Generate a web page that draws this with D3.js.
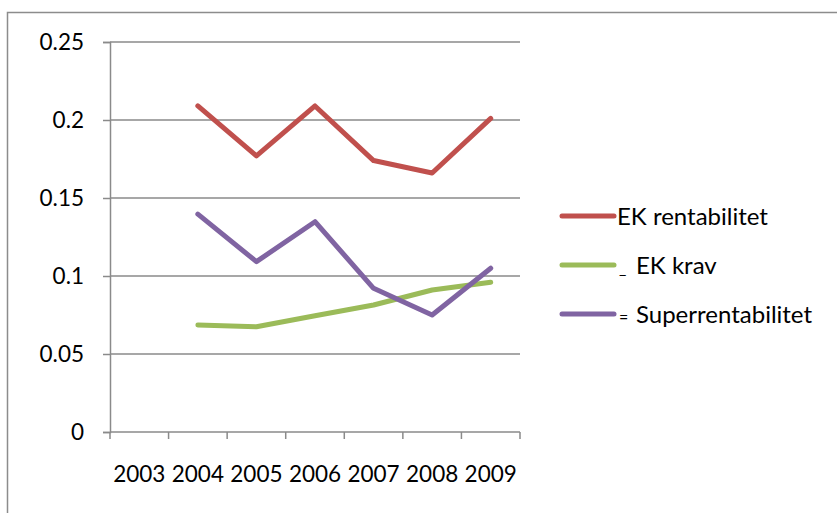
<!DOCTYPE html>
<html>
<head>
<meta charset="utf-8">
<script src="https://cdn.jsdelivr.net/npm/d3@7"></script>
<style>
  html, body { margin: 0; padding: 0; background: #fff; }
  svg { display: block; }
  text { font-family: Lato, "Open Sans", sans-serif; fill: #000; }
</style>
</head>
<body>
<svg id="chart" width="837" height="513"></svg>
<script>
// Years on the category axis (2003 has no values)
const years = ["2003", "2004", "2005", "2006", "2007", "2008", "2009"];

// Series values per year
const ekRentabilitet    = [null, 0.209, 0.177, 0.209, 0.174, 0.166, 0.201];
const ekKrav            = [null, 0.0686, 0.0675, 0.0745, 0.0814, 0.091, 0.096];
const superrentabilitet = [null, 0.1397, 0.1092, 0.1348, 0.0921, 0.075, 0.105];

// Value axis ticks and their labels
const yTicks = [0, 0.05, 0.1, 0.15, 0.2, 0.25];
const yTickLabels = ["0", "0.05", "0.1", "0.15", "0.2", "0.25"];

// Legend entries: prefix glyph, label, colour
const seriesNames = ["EK rentabilitet", "EK krav", "Superrentabilitet"];
const seriesPrefix = ["", "_", "="];
const seriesColors = ["#C0504D", "#9BBB59", "#8064A2"];
const seriesValues = [ekRentabilitet, ekKrav, superrentabilitet];

const svg = d3.select("#chart");
const gridColor = "#8a8a8a";
const fontSize = 22.5;
const legendFontSize = 24;

// Outer chart frame (continues past the right and bottom edges)
svg.append("rect")
  .attr("x", 7.5).attr("y", 12.5)
  .attr("width", 900).attr("height", 600)
  .attr("fill", "none").attr("stroke", "#8c8c8c").attr("stroke-width", 1.5);

const x = d3.scaleBand().domain(years).range([110, 520]);
const y = d3.scaleLinear().domain([0, 0.25]).range([432, 42]);

// Horizontal gridlines
svg.append("g").selectAll("line")
  .data(yTicks.filter(t => t > 0))
  .join("line")
  .attr("x1", x.range()[0]).attr("x2", x.range()[1])
  .attr("y1", d => y(d)).attr("y2", d => y(d))
  .attr("stroke", gridColor).attr("stroke-width", 1.5);

// Value axis
const yAxis = d3.axisLeft(y)
  .tickValues(yTicks)
  .tickFormat((d, i) => yTickLabels[i])
  .tickSize(7)
  .tickPadding(19);
const gy = svg.append("g").attr("transform", `translate(${x.range()[0]},0)`).call(yAxis);
gy.select(".domain").attr("stroke", gridColor).attr("stroke-width", 1.5);
gy.selectAll(".tick line").attr("stroke", gridColor).attr("stroke-width", 1.5);
gy.selectAll(".tick text")
  .attr("font-size", fontSize)
  .attr("font-family", "Lato, sans-serif")
  .attr("fill", "#000");

// Category axis: tick marks sit on the boundaries between years
const boundaries = d3.range(years.length + 1).map(i => x.range()[0] + i * x.step());
const gx = svg.append("g").attr("transform", `translate(0,${y(0)})`);
gx.append("line")
  .attr("x1", x.range()[0]).attr("x2", x.range()[1])
  .attr("stroke", gridColor).attr("stroke-width", 1.5);
gx.selectAll("line.tick")
  .data(boundaries)
  .join("line")
  .attr("class", "tick")
  .attr("x1", d => d).attr("x2", d => d)
  .attr("y1", 0).attr("y2", 7)
  .attr("stroke", gridColor).attr("stroke-width", 1.5);
gx.selectAll("text")
  .data(years)
  .join("text")
  .attr("x", d => x(d) + x.bandwidth() / 2)
  .attr("y", 50)
  .attr("text-anchor", "middle")
  .attr("font-size", fontSize)
  .text(d => d);

// Series lines
const line = d3.line()
  .defined(d => d.v != null)
  .x(d => x(d.year) + x.bandwidth() / 2)
  .y(d => y(d.v));

seriesValues.forEach((vals, i) => {
  svg.append("path")
    .datum(years.map((yr, j) => ({ year: yr, v: vals[j] })))
    .attr("d", line)
    .attr("fill", "none")
    .attr("stroke", seriesColors[i])
    .attr("stroke-width", 5)
    .attr("stroke-linejoin", "round")
    .attr("stroke-linecap", "round");
});

// Legend
const legendY = [216, 265, 314];
const legend = svg.append("g");
seriesNames.forEach((name, i) => {
  const g = legend.append("g").attr("transform", `translate(0,${legendY[i]})`);
  g.append("line")
    .attr("x1", 562).attr("x2", 614)
    .attr("stroke", seriesColors[i]).attr("stroke-width", 5)
    .attr("stroke-linecap", "round");
  if (seriesPrefix[i]) {
    g.append("text")
      .attr("x", 619).attr("y", 9)
      .attr("font-size", 16)
      .text(seriesPrefix[i]);
  }
  g.append("text")
    .attr("x", seriesPrefix[i] ? 636 : 617).attr("y", 9)
    .attr("font-size", legendFontSize)
    .text(name);
});
</script>
</body>
</html>
